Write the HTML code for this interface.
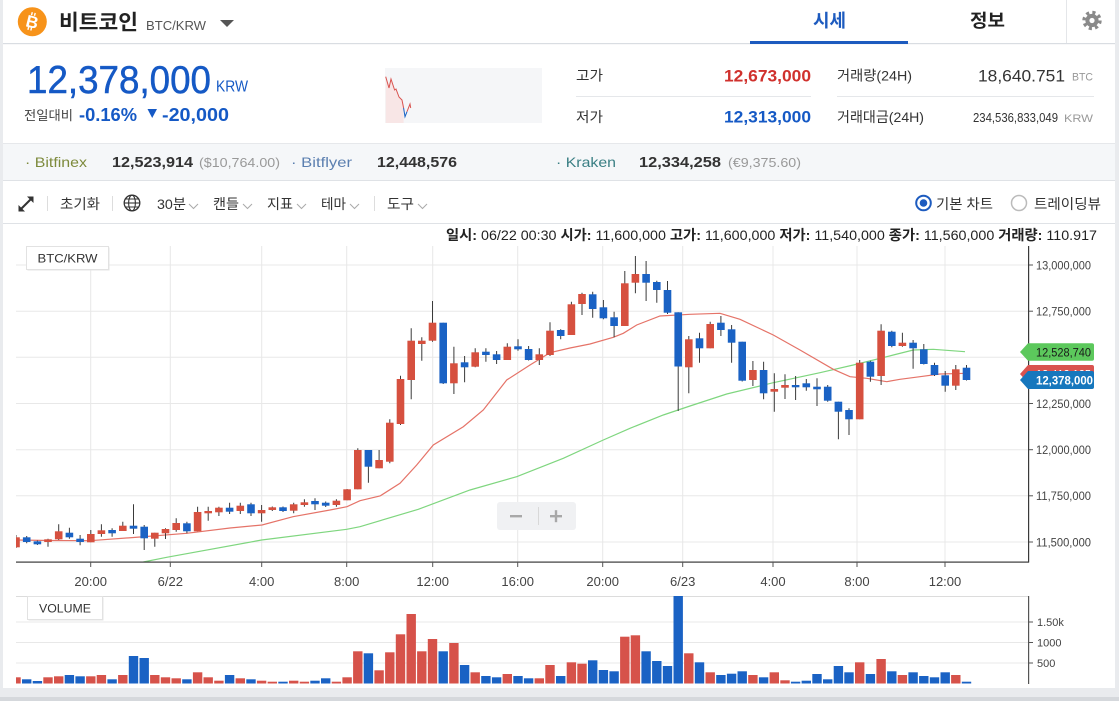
<!DOCTYPE html>
<html><head><meta charset="utf-8">
<style>
html,body{margin:0;padding:0;background:#e9ebee;}
svg{display:block}
text{font-family:"Liberation Sans","Noto Sans CJK KR",sans-serif}
</style></head>
<body>
<svg width="1119" height="701" viewBox="0 0 1119 701" xmlns="http://www.w3.org/2000/svg">
<defs>
<clipPath id="cm"><rect x="16" y="246" width="1012" height="316"/></clipPath>
<clipPath id="cv"><rect x="16" y="596" width="1012" height="88"/></clipPath>
</defs>
<rect x="0" y="0" width="1119" height="701" fill="#e9ebee"/>
<rect x="3" y="0" width="1112" height="688" fill="#fff"/>
<rect x="0" y="697" width="1119" height="4" fill="#d5d8dc"/>

<!-- header -->
<rect x="3" y="43" width="1112" height="1.2" fill="#d9dde2"/>
<circle cx="32.3" cy="21.7" r="14.5" fill="#f7931a"/>
<g transform="rotate(14 32.3 21.7)">
<text x="32.3" y="27.8" font-size="17" font-weight="bold" fill="#fff" text-anchor="middle">B</text>
<rect x="29.3" y="12.5" width="1.4" height="3" fill="#fff"/><rect x="32.3" y="12.5" width="1.4" height="3" fill="#fff"/>
<rect x="29.3" y="27.6" width="1.4" height="3" fill="#fff"/><rect x="32.3" y="27.6" width="1.4" height="3" fill="#fff"/>
</g>
<text x="59" y="29.5" font-size="21" font-weight="bold" fill="#222" textLength="79" lengthAdjust="spacingAndGlyphs">비트코인</text>
<text x="146" y="30" font-size="13" fill="#555" textLength="60" lengthAdjust="spacingAndGlyphs">BTC/KRW</text>
<polygon points="220,20 234,20 227,27" fill="#555"/>

<text x="829.5" y="27" font-size="18" font-weight="bold" fill="#1d5bbf" text-anchor="middle" textLength="33" lengthAdjust="spacingAndGlyphs">시세</text>
<rect x="750" y="41" width="158" height="3" fill="#1d5bbf"/>
<text x="987.5" y="27" font-size="18" font-weight="bold" fill="#222" text-anchor="middle" textLength="35" lengthAdjust="spacingAndGlyphs">정보</text>
<rect x="1066" y="0" width="1" height="43" fill="#e4e6e9"/>
<circle cx="1092" cy="20.5" r="8" fill="none" stroke="#8a8a8a" stroke-width="3.4" stroke-dasharray="3.1 3.2"/>
<circle cx="1092" cy="20.5" r="6.6" fill="#8a8a8a"/>
<circle cx="1092" cy="20.5" r="2.6" fill="#fff"/>

<!-- price -->
<text x="27" y="93" font-size="39" fill="#1559c5" stroke="#1559c5" stroke-width="0.5" textLength="184" lengthAdjust="spacingAndGlyphs">12,378,000</text>
<text x="216" y="91.5" font-size="16" fill="#1559c5" textLength="32" lengthAdjust="spacingAndGlyphs">KRW</text>
<text x="24" y="120" font-size="13" fill="#444" textLength="49" lengthAdjust="spacingAndGlyphs">전일대비</text>
<text x="79" y="121" font-size="18" font-weight="bold" fill="#1559c5" textLength="58" lengthAdjust="spacingAndGlyphs">-0.16%</text>
<polygon points="147.5,109 157,109 152.2,118" fill="#1559c5"/>
<text x="162" y="121" font-size="18" font-weight="bold" fill="#1559c5" textLength="67" lengthAdjust="spacingAndGlyphs">-20,000</text>

<rect x="385" y="68" width="157" height="55" fill="#f5f6f8"/>
<polygon points="385.7,76.7 389,88 391,79 394.6,90 396,89 399,97 402,100 403.6,108 403.6,123 385.7,123" fill="#f8e6e6"/>
<polyline points="385.7,76.7 389,88 391,79 394.6,90 396,89 399,97 402,100 403.6,108" fill="none" stroke="#d9534f" stroke-width="1"/>
<polyline points="403.6,108 405,116.7 407,111.7" fill="none" stroke="#1a62c4" stroke-width="1"/>
<polyline points="407,111.7 410,104 410.7,108" fill="none" stroke="#d9534f" stroke-width="1"/>

<!-- stats -->
<text x="576" y="80.5" font-size="14" fill="#333" textLength="27" lengthAdjust="spacingAndGlyphs">고가</text>
<text x="811" y="81.5" font-size="17" font-weight="bold" fill="#d0312d" text-anchor="end" textLength="87" lengthAdjust="spacingAndGlyphs">12,673,000</text>
<rect x="576" y="96" width="235" height="1" fill="#e5e7ea"/>
<text x="576" y="122" font-size="14" fill="#333" textLength="27" lengthAdjust="spacingAndGlyphs">저가</text>
<text x="811" y="122.5" font-size="17" font-weight="bold" fill="#1559c5" text-anchor="end" textLength="87" lengthAdjust="spacingAndGlyphs">12,313,000</text>
<text x="837" y="80.5" font-size="14" fill="#333" textLength="75" lengthAdjust="spacingAndGlyphs">거래량(24H)</text>
<text x="978" y="81.5" font-size="17" fill="#333" textLength="87" lengthAdjust="spacingAndGlyphs">18,640.751</text>
<text x="1072" y="80.5" font-size="11" fill="#999" textLength="21" lengthAdjust="spacingAndGlyphs">BTC</text>
<rect x="837" y="96" width="257" height="1" fill="#e5e7ea"/>
<text x="837" y="122" font-size="14" fill="#333" textLength="87" lengthAdjust="spacingAndGlyphs">거래대금(24H)</text>
<text x="973" y="122" font-size="13" fill="#333" textLength="85" lengthAdjust="spacingAndGlyphs">234,536,833,049</text>
<text x="1064" y="122" font-size="11" fill="#999" textLength="29" lengthAdjust="spacingAndGlyphs">KRW</text>

<!-- exchange strip -->
<rect x="3" y="143" width="1112" height="37" fill="#f5f7f9"/>
<rect x="3" y="143" width="1112" height="1" fill="#e6e8eb"/>
<rect x="3" y="180" width="1112" height="1" fill="#dfe2e6"/>
<text x="25" y="167" font-size="14" fill="#7d8a3c" textLength="62" lengthAdjust="spacingAndGlyphs">· Bitfinex</text>
<text x="112" y="167" font-size="15" font-weight="bold" fill="#333" textLength="81" lengthAdjust="spacingAndGlyphs">12,523,914</text>
<text x="199" y="167" font-size="13" fill="#999" textLength="81" lengthAdjust="spacingAndGlyphs">($10,764.00)</text>
<text x="291" y="167" font-size="14" fill="#5b7fb0" textLength="61" lengthAdjust="spacingAndGlyphs">· Bitflyer</text>
<text x="377" y="167" font-size="15" font-weight="bold" fill="#333" textLength="80" lengthAdjust="spacingAndGlyphs">12,448,576</text>
<text x="556" y="167" font-size="14" fill="#3a7f84" textLength="60" lengthAdjust="spacingAndGlyphs">· Kraken</text>
<text x="639" y="167" font-size="15" font-weight="bold" fill="#333" textLength="82" lengthAdjust="spacingAndGlyphs">12,334,258</text>
<text x="728" y="167" font-size="13" fill="#999" textLength="73" lengthAdjust="spacingAndGlyphs">(€9,375.60)</text>

<!-- toolbar -->
<line x1="21" y1="209" x2="31" y2="199" stroke="#333" stroke-width="2"/>
<polygon points="33.5,196.5 27,196.5 33.5,203" fill="#333"/>
<polygon points="18.5,211.5 25,211.5 18.5,205" fill="#333"/>
<rect x="47" y="196" width="1" height="15" fill="#ddd"/>
<text x="60" y="209" font-size="14" fill="#333" textLength="40" lengthAdjust="spacingAndGlyphs">초기화</text>
<rect x="112" y="196" width="1" height="15" fill="#ddd"/>
<circle cx="132" cy="203" r="7.8" fill="none" stroke="#333" stroke-width="1.3"/>
<ellipse cx="132" cy="203" rx="3.4" ry="7.8" fill="none" stroke="#333" stroke-width="1.1"/>
<line x1="124.2" y1="203" x2="139.8" y2="203" stroke="#333" stroke-width="1.1"/>
<line x1="125.5" y1="199" x2="138.5" y2="199" stroke="#333" stroke-width="1"/>
<line x1="125.5" y1="207" x2="138.5" y2="207" stroke="#333" stroke-width="1"/>
<text x="157" y="209" font-size="14" fill="#333" textLength="29" lengthAdjust="spacingAndGlyphs">30분</text>
<polyline points="189,204 193.5,208.5 198,204" fill="none" stroke="#aaa" stroke-width="1"/>
<text x="213" y="209" font-size="14" fill="#333" textLength="26" lengthAdjust="spacingAndGlyphs">캔들</text>
<polyline points="243,204 247.5,208.5 252,204" fill="none" stroke="#aaa" stroke-width="1"/>
<text x="267" y="209" font-size="14" fill="#333" textLength="26" lengthAdjust="spacingAndGlyphs">지표</text>
<polyline points="297,204 301.5,208.5 306,204" fill="none" stroke="#aaa" stroke-width="1"/>
<text x="321" y="209" font-size="14" fill="#333" textLength="25" lengthAdjust="spacingAndGlyphs">테마</text>
<polyline points="350,204 354.5,208.5 359,204" fill="none" stroke="#aaa" stroke-width="1"/>
<rect x="374" y="196" width="1" height="15" fill="#ddd"/>
<text x="387" y="209" font-size="14" fill="#333" textLength="27" lengthAdjust="spacingAndGlyphs">도구</text>
<polyline points="418,204 422.5,208.5 427,204" fill="none" stroke="#aaa" stroke-width="1"/>
<circle cx="923.5" cy="203" r="7.3" fill="#fff" stroke="#1d5bbf" stroke-width="2"/>
<circle cx="923.5" cy="203" r="3.8" fill="#1d5bbf"/>
<text x="936" y="209" font-size="14" fill="#333" textLength="57" lengthAdjust="spacingAndGlyphs">기본 차트</text>
<circle cx="1019" cy="203" r="7.5" fill="#fff" stroke="#bbb" stroke-width="1.5"/>
<text x="1034" y="209" font-size="14" fill="#333" textLength="67" lengthAdjust="spacingAndGlyphs">트레이딩뷰</text>
<rect x="3" y="223" width="1112" height="1" fill="#dfe2e6"/>

<!-- info line -->
<text x="446" y="240" font-size="14" fill="#222" textLength="651" lengthAdjust="spacingAndGlyphs"><tspan font-weight="bold">일시:</tspan> 06/22 00:30 <tspan font-weight="bold">시가:</tspan> 11,600,000 <tspan font-weight="bold">고가:</tspan> 11,600,000 <tspan font-weight="bold">저가:</tspan> 11,540,000 <tspan font-weight="bold">종가:</tspan> 11,560,000 <tspan font-weight="bold">거래량:</tspan> 110.917</text>

<!-- main chart grid -->
<g stroke="#e8e8e8" stroke-width="1">
<line x1="90.7" y1="246" x2="90.7" y2="562"/><line x1="170.3" y1="246" x2="170.3" y2="562"/><line x1="261.7" y1="246" x2="261.7" y2="562"/><line x1="346.7" y1="246" x2="346.7" y2="562"/><line x1="432.7" y1="246" x2="432.7" y2="562"/><line x1="517.7" y1="246" x2="517.7" y2="562"/><line x1="602.7" y1="246" x2="602.7" y2="562"/><line x1="682.7" y1="246" x2="682.7" y2="562"/><line x1="773" y1="246" x2="773" y2="562"/><line x1="857" y1="246" x2="857" y2="562"/><line x1="945" y1="246" x2="945" y2="562"/>
<line x1="16" y1="265" x2="1028" y2="265"/><line x1="16" y1="311.2" x2="1028" y2="311.2"/><line x1="16" y1="357.3" x2="1028" y2="357.3"/><line x1="16" y1="403.5" x2="1028" y2="403.5"/><line x1="16" y1="449.7" x2="1028" y2="449.7"/><line x1="16" y1="495.8" x2="1028" y2="495.8"/><line x1="16" y1="542" x2="1028" y2="542"/>
</g>

<rect x="27.5" y="247.5" width="82" height="23" fill="#e4e4e4"/>
<rect x="26.5" y="246.5" width="82" height="23" fill="#fff" stroke="#e2e2e2"/>
<text x="67.5" y="262.5" font-size="12" fill="#333" text-anchor="middle" textLength="60" lengthAdjust="spacingAndGlyphs">BTC/KRW</text>

<!-- zoom control -->
<rect x="497" y="502" width="79" height="28" rx="3" fill="#f0f1f3"/>
<rect x="510" y="515" width="12" height="2.4" fill="#a8a8a8"/>
<rect x="550" y="515" width="12" height="2.4" fill="#a8a8a8"/><rect x="554.8" y="510.2" width="2.4" height="12" fill="#a8a8a8"/>
<rect x="538" y="507" width="1" height="18" fill="#d8d8d8"/>

<g clip-path="url(#cm)">
<!-- MA lines -->
<polyline fill="none" stroke="#7fd67f" stroke-width="1.2" points="143.3,562 166.7,557.3 261.7,540 346.7,529.3 360,526.7 418.3,509.3 470,490 516.7,476.7 563.3,458.3 603.3,440 630,428.3 663.3,415 690,406 726.7,394 773.3,382.7 820,372.7 853.3,365 893.3,355 913.3,350 933.3,349.3 965,351.7"/>
<polyline fill="none" stroke="#e57368" stroke-width="1.2" points="16,540 50,540.5 90,540.7 140,537 186.7,533.3 230,528 262,525 293,516.7 330,510 347,506.7 360,500.7 380,496 400,483.3 416.7,465 433.3,445 463.3,426.7 483.3,410 506.7,380 530,365 550,352.7 570,348 590,344 613.3,337.3 623.3,333.3 636.7,325 660,316 690,314.3 720,313.3 740,319.3 773.3,335 800,350 833.3,369.3 850,376.7 866.7,378.3 886.7,381.7 900,379.3 920,376.7 940,374 966.5,373.3"/>
<!-- wicks -->
<path fill="none" stroke="#3a3a3a" stroke-width="1" d="M16 535V548 M26.7 536V543.3 M37.4 540.5V545 M48 538.7V546.7 M58.7 524.3V540 M69.4 527.7V538.7 M80.1 535V545.3 M90.8 530V542.3 M101.4 524.3V536.7 M112.1 528.3V536.7 M122.8 521.7V531 M133.5 504.3V534 M144.2 525V550 M154.8 532.7V546.7 M165.5 528.3V539 M176.2 518.3V531.7 M186.9 521.7V533.3 M197.6 506.7V531.3 M208.2 506.7V520.7 M218.9 506.7V516 M229.6 502.7V514 M240.3 502.7V514 M251 502.7V516 M261.6 505V521.7 M272.3 506.5V511 M283 506.5V512 M293.7 502.7V513.3 M304.4 499.3V506.7 M315 498.3V510 M325.7 501.5V507 M336.4 499.3V506.7 M347.1 489V500.3 M357.8 448.3V489.3 M368.4 450V482.7 M379.1 450V468.3 M389.8 419.3V463.3 M400.5 375.7V425 M411.2 328.3V399.3 M421.8 337.3V360.7 M432.5 301V341.7 M443.2 322.7V384 M453.9 346.7V394 M464.6 356V382.3 M475.2 348.3V367.3 M485.9 348.3V361.7 M496.6 351V364 M507.3 343.3V360 M518 339.3V350.7 M528.6 346V360.5 M539.3 348.3V365 M550 322.3V356 M560.7 329.3V339.3 M571.4 301.7V335 M582 292.7V315 M592.7 291.7V317.7 M603.4 300V319.3 M614.1 311.7V337.3 M624.8 271V326 M635.4 256V293.3 M646.1 261V301 M656.8 280.7V302.7 M667.5 281V314 M678.2 312.3V411 M688.8 336V393.3 M699.5 332.7V362.7 M710.2 321.7V348.3 M720.9 316V336 M731.6 325V362.7 M742.2 341.7V381.5 M752.9 361V386 M763.6 361.7V399.3 M774.3 373.3V411.7 M785 374.3V399 M795.6 376V400 M806.3 379V390.7 M817 378.3V406 M827.7 385V401.7 M838.4 401.7V439.3 M849 408.3V435 M859.7 360V419.3 M870.4 360.7V381.7 M881.1 324.3V385 M891.8 330.7V347.3 M902.4 332.7V346.7 M913.1 340V368.7 M923.8 344V364.5 M934.5 362.7V376 M945.2 371V391.7 M955.8 365V390 M966.5 365V380.5"/>
<!-- red bodies -->
<g fill="#d6503f">
<rect x="12.2" y="537.3" width="7.6" height="10"/><rect x="44.2" y="539.3" width="7.6" height="2.7"/><rect x="54.9" y="531.3" width="7.6" height="8"/><rect x="87" y="534" width="7.6" height="8.3"/><rect x="97.6" y="530.3" width="7.6" height="3.7"/><rect x="119" y="525.7" width="7.6" height="5.3"/><rect x="151" y="532.7" width="7.6" height="6"/><rect x="161.7" y="529" width="7.6" height="4.3"/><rect x="172.4" y="523" width="7.6" height="7"/><rect x="193.8" y="512" width="7.6" height="19.3"/><rect x="204.4" y="511" width="7.6" height="2.3"/><rect x="215.1" y="507.7" width="7.6" height="4.6"/><rect x="236.5" y="505.7" width="7.6" height="5.3"/><rect x="257.8" y="510" width="7.6" height="3.3"/><rect x="268.5" y="507.3" width="7.6" height="2.7"/><rect x="289.9" y="504.3" width="7.6" height="6.4"/><rect x="300.6" y="502.3" width="7.6" height="2.7"/><rect x="332.6" y="500.7" width="7.6" height="4.3"/><rect x="343.3" y="489.3" width="7.6" height="11"/><rect x="354" y="450" width="7.6" height="39.3"/><rect x="375.3" y="460" width="7.6" height="8.3"/><rect x="386" y="422.7" width="7.6" height="39"/><rect x="396.7" y="379" width="7.6" height="45"/><rect x="407.4" y="340.7" width="7.6" height="39.3"/><rect x="418" y="340.7" width="7.6" height="3.3"/><rect x="428.7" y="322.7" width="7.6" height="18"/><rect x="450.1" y="363.3" width="7.6" height="20"/><rect x="471.4" y="352.3" width="7.6" height="14.4"/><rect x="503.5" y="346.7" width="7.6" height="13.3"/><rect x="535.5" y="354.3" width="7.6" height="5.7"/><rect x="546.2" y="330.7" width="7.6" height="24.3"/><rect x="567.6" y="304.3" width="7.6" height="30.7"/><rect x="578.2" y="294" width="7.6" height="10"/><rect x="621" y="283.3" width="7.6" height="42.7"/><rect x="631.6" y="274" width="7.6" height="8.7"/><rect x="685" y="339.3" width="7.6" height="28"/><rect x="706.4" y="324" width="7.6" height="24.3"/><rect x="749.1" y="370" width="7.6" height="10"/><rect x="770.5" y="389" width="7.6" height="2.7"/><rect x="781.2" y="385" width="7.6" height="2.7"/><rect x="855.9" y="362.7" width="7.6" height="56.6"/><rect x="877.3" y="330.7" width="7.6" height="45.3"/><rect x="898.6" y="342.7" width="7.6" height="3.3"/><rect x="952" y="369.3" width="7.6" height="16.4"/>
</g>
<!-- blue bodies -->
<g fill="#1a62c4">
<rect x="22.9" y="537.3" width="7.6" height="4.7"/><rect x="33.6" y="541.3" width="7.6" height="3"/><rect x="65.6" y="532.7" width="7.6" height="4.6"/><rect x="76.3" y="538.7" width="7.6" height="3.3"/><rect x="108.3" y="530" width="7.6" height="3.3"/><rect x="129.7" y="525.7" width="7.6" height="3"/><rect x="140.4" y="526.7" width="7.6" height="11.6"/><rect x="183.1" y="523.3" width="7.6" height="8"/><rect x="225.8" y="507.7" width="7.6" height="4"/><rect x="247.2" y="504.3" width="7.6" height="9"/><rect x="279.2" y="507.3" width="7.6" height="3.7"/><rect x="311.2" y="501" width="7.6" height="3.3"/><rect x="321.9" y="502.7" width="7.6" height="3"/><rect x="364.6" y="450" width="7.6" height="16.7"/><rect x="439.4" y="322.7" width="7.6" height="60.6"/><rect x="460.8" y="362.3" width="7.6" height="5"/><rect x="482.1" y="351.7" width="7.6" height="3.3"/><rect x="492.8" y="354.3" width="7.6" height="5.7"/><rect x="514.2" y="346.3" width="7.6" height="3"/><rect x="524.8" y="349" width="7.6" height="11"/><rect x="556.9" y="330" width="7.6" height="6"/><rect x="588.9" y="294.3" width="7.6" height="14.7"/><rect x="599.6" y="307.3" width="7.6" height="11"/><rect x="610.3" y="317.3" width="7.6" height="8.7"/><rect x="642.3" y="274" width="7.6" height="8.7"/><rect x="653" y="282" width="7.6" height="8"/><rect x="663.7" y="290" width="7.6" height="22.7"/><rect x="674.4" y="312.3" width="7.6" height="54.2"/><rect x="695.7" y="338.3" width="7.6" height="10"/><rect x="717.1" y="322.7" width="7.6" height="7.3"/><rect x="727.8" y="329.3" width="7.6" height="13.4"/><rect x="738.4" y="341.7" width="7.6" height="39"/><rect x="759.8" y="370" width="7.6" height="23.3"/><rect x="791.8" y="385" width="7.6" height="2.3"/><rect x="802.5" y="383.3" width="7.6" height="4"/><rect x="813.2" y="386.7" width="7.6" height="2.6"/><rect x="823.9" y="386.7" width="7.6" height="14"/><rect x="834.6" y="401.7" width="7.6" height="10"/><rect x="845.2" y="410" width="7.6" height="9.3"/><rect x="866.6" y="361.7" width="7.6" height="15"/><rect x="888" y="331.7" width="7.6" height="14.3"/><rect x="909.3" y="342.7" width="7.6" height="5.6"/><rect x="920" y="349.3" width="7.6" height="14.7"/><rect x="930.7" y="365" width="7.6" height="10"/><rect x="941.4" y="375.3" width="7.6" height="10.4"/><rect x="962.7" y="367.7" width="7.6" height="12.3"/>
</g>
</g>

<!-- main axes -->
<rect x="16" y="561.5" width="1013" height="1.2" fill="#3a3a3a"/>
<rect x="1028" y="246" width="1.2" height="316.5" fill="#3a3a3a"/>
<g stroke="#555" stroke-width="1">
<line x1="90.7" y1="562" x2="90.7" y2="567"/><line x1="170.3" y1="562" x2="170.3" y2="567"/><line x1="261.7" y1="562" x2="261.7" y2="567"/><line x1="346.7" y1="562" x2="346.7" y2="567"/><line x1="432.7" y1="562" x2="432.7" y2="567"/><line x1="517.7" y1="562" x2="517.7" y2="567"/><line x1="602.7" y1="562" x2="602.7" y2="567"/><line x1="682.7" y1="562" x2="682.7" y2="567"/><line x1="773" y1="562" x2="773" y2="567"/><line x1="857" y1="562" x2="857" y2="567"/><line x1="945" y1="562" x2="945" y2="567"/>
<line x1="1029" y1="265" x2="1033" y2="265"/><line x1="1029" y1="311.2" x2="1033" y2="311.2"/><line x1="1029" y1="403.5" x2="1033" y2="403.5"/><line x1="1029" y1="449.7" x2="1033" y2="449.7"/><line x1="1029" y1="495.8" x2="1033" y2="495.8"/><line x1="1029" y1="542" x2="1033" y2="542"/>
</g>
<g font-size="13" fill="#444" text-anchor="middle">
<text x="90.7" y="586">20:00</text><text x="170.3" y="586">6/22</text><text x="261.7" y="586">4:00</text><text x="346.7" y="586">8:00</text><text x="432.7" y="586">12:00</text><text x="517.7" y="586">16:00</text><text x="602.7" y="586">20:00</text><text x="682.7" y="586">6/23</text><text x="773" y="586">4:00</text><text x="857" y="586">8:00</text><text x="945" y="586">12:00</text>
</g>
<g font-size="12" fill="#444">
<text x="1036" y="269.3" textLength="55" lengthAdjust="spacingAndGlyphs">13,000,000</text>
<text x="1036" y="315.5" textLength="55" lengthAdjust="spacingAndGlyphs">12,750,000</text>
<text x="1036" y="407.8" textLength="55" lengthAdjust="spacingAndGlyphs">12,250,000</text>
<text x="1036" y="454" textLength="55" lengthAdjust="spacingAndGlyphs">12,000,000</text>
<text x="1036" y="500.1" textLength="55" lengthAdjust="spacingAndGlyphs">11,750,000</text>
<text x="1036" y="546.3" textLength="55" lengthAdjust="spacingAndGlyphs">11,500,000</text>
</g>

<!-- price labels -->
<path d="M1020 352 L1028 343.3 H1092 Q1094 343.3 1094 345.3 V358.7 Q1094 360.7 1092 360.7 H1028 Z" fill="#5cc85c"/>
<text x="1036" y="356.5" font-size="12" fill="#1a1a1a" textLength="55" lengthAdjust="spacingAndGlyphs">12,528,740</text>
<path d="M1020 374 L1028 365 H1092 Q1094 365 1094 367 V381 Q1094 383 1092 383 H1028 Z" fill="#d9534f"/>
<text x="1036" y="378.5" font-size="12" fill="#fff" textLength="55" lengthAdjust="spacingAndGlyphs">12,412,125</text>
<path d="M1020 380 L1028 371 H1092 Q1094 371 1094 373 V387 Q1094 389 1092 389 H1028 Z" fill="#1677bd"/>
<text x="1036" y="384.5" font-size="12" font-weight="bold" fill="#fff" textLength="57" lengthAdjust="spacingAndGlyphs">12,378,000</text>

<!-- volume panel -->
<rect x="16" y="596" width="1013" height="1" fill="#dcdcdc"/>
<g stroke="#e8e8e8" stroke-width="1">
<line x1="16" y1="622" x2="1028" y2="622"/><line x1="16" y1="642.5" x2="1028" y2="642.5"/><line x1="16" y1="663" x2="1028" y2="663"/>
</g>
<g clip-path="url(#cv)">
<g fill="#d6524a">
<rect x="11.3" y="677.3" width="9.4" height="6.2"/><rect x="43.3" y="677.3" width="9.4" height="6.2"/><rect x="54" y="676.3" width="9.4" height="7.2"/><rect x="86.1" y="676.3" width="9.4" height="7.2"/><rect x="96.7" y="675" width="9.4" height="8.5"/><rect x="118.1" y="675" width="9.4" height="8.5"/><rect x="150.1" y="675" width="9.4" height="8.5"/><rect x="160.8" y="677.3" width="9.4" height="6.2"/><rect x="171.5" y="678.3" width="9.4" height="5.2"/><rect x="192.9" y="672.3" width="9.4" height="11.2"/><rect x="203.5" y="677.3" width="9.4" height="6.2"/><rect x="214.2" y="680.7" width="9.4" height="2.8"/><rect x="235.6" y="678.3" width="9.4" height="5.2"/><rect x="256.9" y="680.7" width="9.4" height="2.8"/><rect x="267.6" y="681.7" width="9.4" height="1.8"/><rect x="289" y="680.7" width="9.4" height="2.8"/><rect x="299.7" y="681.7" width="9.4" height="1.8"/><rect x="331.7" y="681.7" width="9.4" height="1.8"/><rect x="342.4" y="677.3" width="9.4" height="6.2"/><rect x="353.1" y="651.3" width="9.4" height="32.2"/><rect x="374.4" y="670.3" width="9.4" height="13.2"/><rect x="385.1" y="652.3" width="9.4" height="31.2"/><rect x="395.8" y="634.3" width="9.4" height="49.2"/><rect x="406.5" y="614" width="9.4" height="69.5"/><rect x="417.1" y="651.3" width="9.4" height="32.2"/><rect x="427.8" y="639" width="9.4" height="44.5"/><rect x="449.2" y="643" width="9.4" height="40.5"/><rect x="470.5" y="672.3" width="9.4" height="11.2"/><rect x="502.6" y="674" width="9.4" height="9.5"/><rect x="534.6" y="678.3" width="9.4" height="5.2"/><rect x="545.3" y="665" width="9.4" height="18.5"/><rect x="566.7" y="662.3" width="9.4" height="21.2"/><rect x="577.3" y="663.7" width="9.4" height="19.8"/><rect x="620.1" y="636.7" width="9.4" height="46.8"/><rect x="630.7" y="635.3" width="9.4" height="48.2"/><rect x="684.1" y="653.3" width="9.4" height="30.2"/><rect x="705.5" y="672.3" width="9.4" height="11.2"/><rect x="748.2" y="675" width="9.4" height="8.5"/><rect x="769.6" y="672.3" width="9.4" height="11.2"/><rect x="780.3" y="680.3" width="9.4" height="3.2"/><rect x="855" y="662.3" width="9.4" height="21.2"/><rect x="876.4" y="659" width="9.4" height="24.5"/><rect x="897.7" y="675" width="9.4" height="8.5"/><rect x="951.1" y="675" width="9.4" height="8.5"/>
</g>
<g fill="#1a62c4">
<rect x="22" y="679.3" width="9.4" height="4.2"/><rect x="32.7" y="681" width="9.4" height="2.5"/><rect x="64.7" y="675" width="9.4" height="8.5"/><rect x="75.4" y="676.3" width="9.4" height="7.2"/><rect x="107.4" y="679.3" width="9.4" height="4.2"/><rect x="128.8" y="656" width="9.4" height="27.5"/><rect x="139.5" y="658" width="9.4" height="25.5"/><rect x="182.2" y="679.3" width="9.4" height="4.2"/><rect x="224.9" y="675" width="9.4" height="8.5"/><rect x="246.3" y="679.3" width="9.4" height="4.2"/><rect x="278.3" y="681.7" width="9.4" height="1.8"/><rect x="310.3" y="680.7" width="9.4" height="2.8"/><rect x="321" y="678.3" width="9.4" height="5.2"/><rect x="363.7" y="653.3" width="9.4" height="30.2"/><rect x="438.5" y="651.3" width="9.4" height="32.2"/><rect x="459.9" y="665" width="9.4" height="18.5"/><rect x="481.2" y="676" width="9.4" height="7.5"/><rect x="491.9" y="677.3" width="9.4" height="6.2"/><rect x="513.3" y="676" width="9.4" height="7.5"/><rect x="523.9" y="678.3" width="9.4" height="5.2"/><rect x="556" y="676" width="9.4" height="7.5"/><rect x="588" y="660.3" width="9.4" height="23.2"/><rect x="598.7" y="670" width="9.4" height="13.5"/><rect x="609.4" y="671.3" width="9.4" height="12.2"/><rect x="641.4" y="651.3" width="9.4" height="32.2"/><rect x="652.1" y="661" width="9.4" height="22.5"/><rect x="662.8" y="666" width="9.4" height="17.5"/><rect x="673.5" y="596" width="9.4" height="87.5"/><rect x="694.8" y="662.3" width="9.4" height="21.2"/><rect x="716.2" y="675" width="9.4" height="8.5"/><rect x="726.9" y="673.7" width="9.4" height="9.8"/><rect x="737.5" y="671.3" width="9.4" height="12.2"/><rect x="758.9" y="677.3" width="9.4" height="6.2"/><rect x="790.9" y="681.7" width="9.4" height="1.8"/><rect x="801.6" y="680.7" width="9.4" height="2.8"/><rect x="812.3" y="674" width="9.4" height="9.5"/><rect x="823" y="679.3" width="9.4" height="4.2"/><rect x="833.7" y="666" width="9.4" height="17.5"/><rect x="844.3" y="672.3" width="9.4" height="11.2"/><rect x="865.7" y="674" width="9.4" height="9.5"/><rect x="887.1" y="671.3" width="9.4" height="12.2"/><rect x="908.4" y="672.3" width="9.4" height="11.2"/><rect x="919.1" y="676" width="9.4" height="7.5"/><rect x="929.8" y="677.3" width="9.4" height="6.2"/><rect x="940.5" y="672.3" width="9.4" height="11.2"/><rect x="961.8" y="681.7" width="9.4" height="1.8"/>
</g>
</g>
<rect x="1028" y="596" width="1.2" height="88" fill="#555"/>
<g stroke="#555" stroke-width="1">
<line x1="1029" y1="622" x2="1033" y2="622"/><line x1="1029" y1="642.5" x2="1033" y2="642.5"/><line x1="1029" y1="663" x2="1033" y2="663"/>
</g>
<g font-size="11" fill="#444">
<text x="1037" y="626">1.50k</text><text x="1037" y="646.5">1000</text><text x="1037" y="667">500</text>
</g>
<rect x="28.5" y="597.5" width="75" height="23" fill="#e6e6e6"/>
<rect x="27.5" y="596.5" width="75" height="23" fill="#fff" stroke="#e2e2e2"/>
<text x="65" y="612.5" font-size="12" fill="#333" text-anchor="middle" textLength="52" lengthAdjust="spacingAndGlyphs">VOLUME</text>
</svg>
</body></html>
